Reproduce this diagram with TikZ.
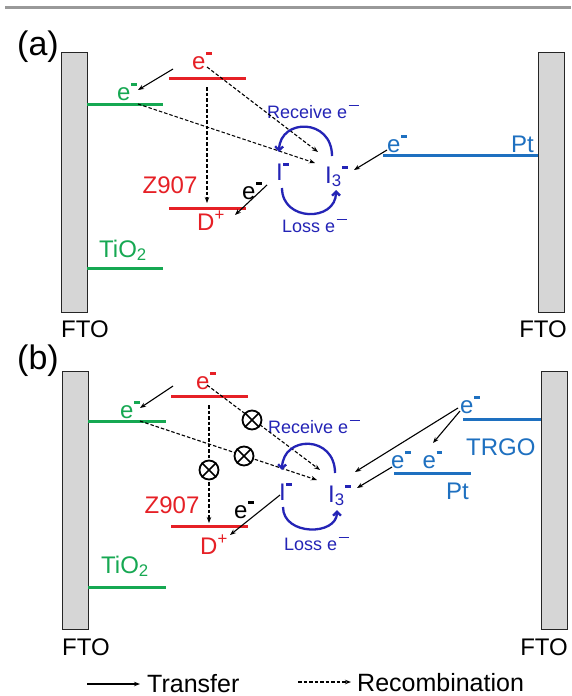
\documentclass[tikz,border=0pt]{standalone}
\usepackage{fontspec}
\setmainfont{Liberation Sans}
\usetikzlibrary{arrows.meta}
\definecolor{dred}{RGB}{230,32,38}
\definecolor{tgreen}{RGB}{22,168,82}
\definecolor{lblue}{RGB}{30,112,192}
\definecolor{dblue}{RGB}{36,36,182}
\newcommand\emn{\hspace{0.6pt}\raisebox{0.6em}{\rule{0.23em}{0.1em}}}
\newcommand\lbar{\hspace{1.5pt}\raisebox{0.66em}{\rule{0.55em}{0.09em}}}
\tikzset{
  lbl/.style={inner sep=0pt, font=\fontsize{24}{28}\selectfont},
  small/.style={inner sep=0pt, font=\fontsize{18}{20}\selectfont, text=dblue},
  level/.style={line width=3pt},
  ftobox/.style={draw=black!85, fill=black!16, line width=1.3pt, minimum width=26pt, inner sep=0pt, anchor=north west},
  tr/.style={-{Stealth[length=6pt,width=4.5pt]}, line width=1.1pt},
  rc/.style={tr, dash pattern=on 3.5pt off 2pt},
  cyc/.style={line width=2.3pt, draw=dblue, -{Straight Barb[length=4pt,width=8pt]}},
  ox/.style={circle, draw, fill=white, line width=1.8pt, minimum size=19pt, inner sep=0pt},
}
\begin{document}
\begin{tikzpicture}[x=1pt,y=-1pt]
\useasboundingbox (0,0) rectangle (571,696);
\fill[white] (0,0) rectangle (571,696);
\draw[line width=3pt, black!40] (5,7) -- (571,7);

%%%%%%%%%%%%%%%% panel (a)
\node[inner sep=0pt, font=\fontsize{34}{36}\selectfont] (pa) at (38,47) {(a)};
\node[ftobox, minimum height=260pt] (fla) at (61,52) {};
\node[ftobox, minimum height=260pt] (fra) at (538,52) {};
\node[lbl, anchor=base west] (flta) at (61,337) {FTO};
\node[lbl, anchor=base east] (frta) at (567,337) {FTO};

% TiO2
\draw[level, tgreen] (87,104) -- (163,104);
\draw[level, tgreen] (87,268) -- (163,268);
\node[lbl, text=tgreen, anchor=base west] (ega) at (117,100) {e\emn};
\node[lbl, text=tgreen, anchor=base west] (tioa) at (99,257) {TiO\textsubscript{2}};
% Z907
\draw[level, dred] (169,78) -- (246,78);
\draw[level, dred] (169,208) -- (246,208);
\node[lbl, text=dred, anchor=base west] (era) at (192,69) {e\emn};
\node[lbl, text=dred, anchor=base] (za) at (170,193) {Z907};
\node[lbl, text=dred, anchor=base west] (da) at (197,230) {D\textsuperscript{+}};
\node[lbl, anchor=base west] (eka) at (242,199) {e\emn};
% Pt
\draw[level, lblue] (383,155) -- (538,155);
\node[lbl, text=lblue, anchor=base west] (eba) at (387,152) {e\emn};
\node[lbl, text=lblue, anchor=base east] (pta) at (534,152) {Pt};
% iodide
\node[lbl, text=dblue, anchor=base west] (ia) at (276,180) {I\emn};
\node[lbl, text=dblue, anchor=base west] (i3a) at (325,183) {I\textsubscript{3}\emn};
\node[small, anchor=base west] (reca) at (267,118) {Receive e\lbar};
\node[small, anchor=base west] (lossa) at (282,232) {Loss e\lbar};

\coordinate (a1s) at (173,69);  \coordinate (a1e) at (138,90);
\coordinate (a2s) at (207,67);  \coordinate (a2e) at (318,152);
\coordinate (a3s) at (138,104); \coordinate (a3e) at (315,163);
\coordinate (a4s) at (207,87);  \coordinate (a4e) at (207,203);
\coordinate (a5s) at (267,185); \coordinate (a5e) at (235,215);
\coordinate (a6s) at (387,150); \coordinate (a6e) at (354,170);
\draw[tr] (a1s) -- (a1e);
\draw[rc] (a2s) -- (a2e);
\draw[rc] (a3s) -- (a3e);
\draw[rc] (a4s) -- (a4e);
\draw[tr] (a5s) -- (a5e);
\draw[tr] (a6s) -- (a6e);
\coordinate (c1s) at (332,156); \coordinate (c1e) at (279,152);
\coordinate (c2s) at (282,188); \coordinate (c2e) at (336,190);
\draw[cyc] (c1s) .. controls (332,118) and (280,118) .. (c1e);
\draw[cyc] (c2s) .. controls (282,222) and (336,222) .. (c2e);

%%%%%%%%%%%%%%%% panel (b)
\node[inner sep=0pt, font=\fontsize{34}{36}\selectfont] (pb) at (38,361) {(b)};
\node[ftobox, minimum height=258pt] (flb) at (62,371) {};
\node[ftobox, minimum height=258pt] (frb) at (541,371) {};
\node[lbl, anchor=base west] (fltb) at (62,655) {FTO};
\node[lbl, anchor=base east] (frtb) at (568,655) {FTO};

\draw[level, tgreen] (88,421) -- (166,421);
\draw[level, tgreen] (88,587) -- (166,587);
\node[lbl, text=tgreen, anchor=base west] (egb) at (120,418) {e\emn};
\node[lbl, text=tgreen, anchor=base west] (tiob) at (101,573) {TiO\textsubscript{2}};
\draw[level, dred] (171,396) -- (248,396);
\draw[level, dred] (171,526) -- (248,526);
\node[lbl, text=dred, anchor=base west] (erb) at (196,389) {e\emn};
\node[lbl, text=dred, anchor=base] (zb) at (172,513) {Z907};
\node[lbl, text=dred, anchor=base west] (db) at (200,554) {D\textsuperscript{+}};
\node[lbl, anchor=base west] (ekb) at (234,518) {e\emn};
% TRGO / Pt
\draw[level, lblue] (463,419) -- (541,419);
\node[lbl, text=lblue, anchor=base west] (etb) at (460,413) {e\emn};
\node[lbl, text=lblue, anchor=base west] (trgo) at (466,455) {TRGO};
\draw[level, lblue] (394,473) -- (471,473);
\node[lbl, text=lblue, anchor=base west] (eeb) at (391,468) {e\emn\hspace{12pt}e\emn};
\node[lbl, text=lblue, anchor=base west] (ptb) at (446,499) {Pt};
% iodide
\node[lbl, text=dblue, anchor=base west] (ib) at (279,500) {I\emn};
\node[lbl, text=dblue, anchor=base west] (i3b) at (328,502) {I\textsubscript{3}\emn};
\node[small, anchor=base west] (recb) at (268,433) {Receive e\lbar};
\node[small, anchor=base west] (lossb) at (284,550) {Loss e\lbar};

\coordinate (b1s) at (173,386); \coordinate (b1e) at (140,408);
\coordinate (b2s) at (207,385); \coordinate (b2e) at (320,470);
\coordinate (b3s) at (140,421); \coordinate (b3e) at (317,480);
\coordinate (b4s) at (209,405); \coordinate (b4e) at (209,523);
\coordinate (b5s) at (280,495); \coordinate (b5e) at (230,535);
\coordinate (b6s) at (458,408); \coordinate (b6e) at (355,472);
\coordinate (b7s) at (460,411); \coordinate (b7e) at (433,443);
\coordinate (b8s) at (392,467); \coordinate (b8e) at (357,488);
\draw[tr] (b1s) -- (b1e);
\draw[rc] (b2s) -- (b2e);
\draw[rc] (b3s) -- (b3e);
\draw[rc] (b4s) -- (b4e);
\draw[tr] (b5s) -- (b5e);
\draw[tr] (b6s) -- (b6e);
\draw[tr] (b7s) -- (b7e);
\draw[tr] (b8s) -- (b8e);
\foreach \n/\p in {x1/{(252,420)}, x2/{(244,456)}, x3/{(209,470)}}{
  \node[ox] (\n) at \p {};
  \draw[line width=1.6pt] (\n.north west) -- (\n.south east) (\n.north east) -- (\n.south west);
}
\coordinate (d1s) at (335,473); \coordinate (d1e) at (282,470);
\coordinate (d2s) at (283,507); \coordinate (d2e) at (337,510);
\draw[cyc] (d1s) .. controls (335,435) and (283,435) .. (d1e);
\draw[cyc] (d2s) .. controls (283,536) and (337,536) .. (d2e);

%%%%%%%%%%%%%%%% legend
\coordinate (l1s) at (87,684); \coordinate (l1e) at (140,684);
\draw[tr] (l1s) -- (l1e);
\node[inner sep=0pt, font=\fontsize{25}{28}\selectfont, anchor=base west] (ltr) at (147,692) {Transfer};
\coordinate (l2s) at (298,682); \coordinate (l2e) at (351,682);
\draw[rc] (l2s) -- (l2e);
\node[inner sep=0pt, font=\fontsize{25}{28}\selectfont, anchor=base west] (lrc) at (357,691) {Recombination};
\end{tikzpicture}
\end{document}
